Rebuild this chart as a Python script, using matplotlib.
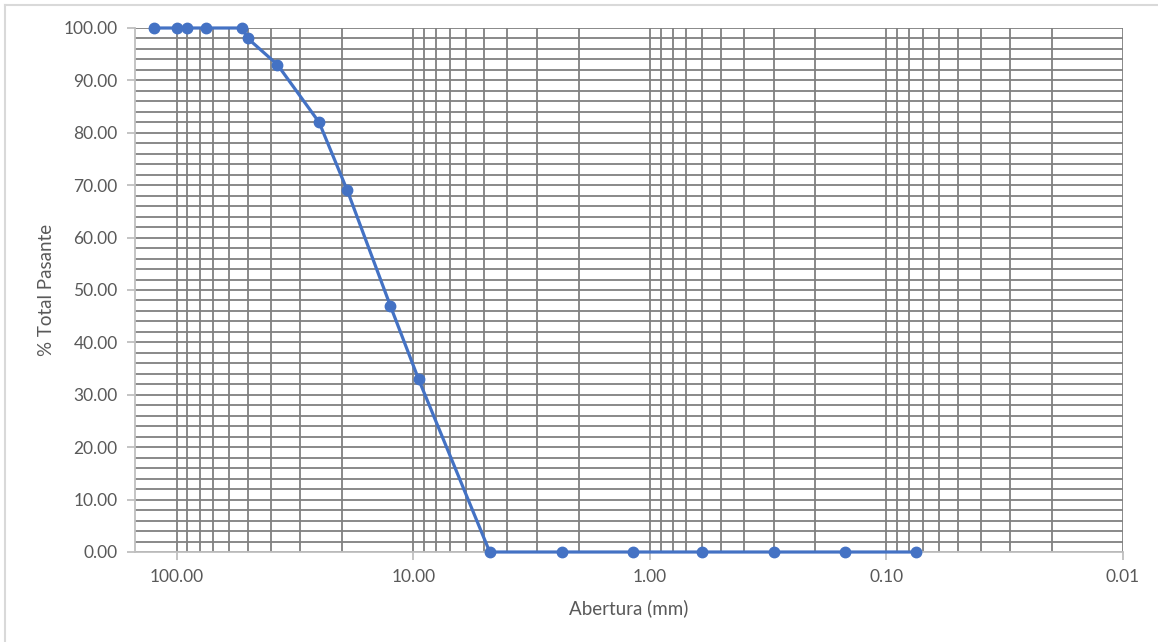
import matplotlib
matplotlib.use("Agg")
import matplotlib.pyplot as plt
from matplotlib.ticker import LogLocator, FixedLocator, MultipleLocator, FuncFormatter, NullFormatter
from matplotlib.lines import Line2D

# Data
aberturas = [125, 100, 90, 75, 53, 50, 37.5, 25, 19, 12.5, 9.5, 4.75, 2.36, 1.18, 0.6, 0.3, 0.15, 0.075]
pasante = [100, 100, 100, 100, 100, 98, 93, 82, 69, 47, 33, 0, 0, 0, 0, 0, 0, 0]
x_major = [100, 10, 1, 0.1, 0.01]
x_title = "Abertura (mm)"
y_title = "% Total Pasante"

plt.rcParams['font.family'] = ['Lato', 'DejaVu Sans']

W, H = 1158, 642
fig = plt.figure(figsize=(W / 100, H / 100), dpi=100)
ax = fig.add_axes([135 / W, 1 - 552 / H, (1123 - 135) / W, (552 - 28) / H])

text_col = '#595959'
grid_col = '#808080'
axis_col = '#bfbfbf'
blue = '#4472C4'

ax.plot(aberturas, pasante, color=blue, lw=2.3, marker='o', markersize=7.5,
        markeredgecolor=blue, markerfacecolor=blue, clip_on=False, zorder=5)

ax.set_xscale('log')
ax.set_xlim(150, 0.01)
ax.set_ylim(0, 100)

ax.xaxis.set_major_locator(FixedLocator(x_major))
ax.xaxis.set_minor_locator(LogLocator(base=10, subs=[2, 3, 4, 5, 6, 7, 8, 9], numticks=20))
ax.xaxis.set_major_formatter(FuncFormatter(lambda v, p: f"{v:.2f}"))
ax.xaxis.set_minor_formatter(NullFormatter())

ax.yaxis.set_major_locator(MultipleLocator(10))
ax.yaxis.set_minor_locator(MultipleLocator(2))
ax.yaxis.set_major_formatter(FuncFormatter(lambda v, p: f"{v:.2f}"))

ax.set_axisbelow(True)
ax.grid(True, which='both', color=grid_col, lw=1.3)

for s in ['top', 'right']:
    ax.spines[s].set_visible(False)
for s in ['left', 'bottom']:
    ax.spines[s].set_color(axis_col)
    ax.spines[s].set_linewidth(1.3)
    ax.spines[s].set_zorder(3)

ax.tick_params(which='major', length=5.5, width=1.3, color=axis_col,
               labelcolor=text_col, labelsize=12.5, pad=7)
ax.tick_params(which='minor', length=0)

ax.set_xlabel(x_title, color=text_col, fontsize=13.5, labelpad=10)
ax.set_ylabel(y_title, color=text_col, fontsize=13.5, labelpad=6)

# chart area border (top and left visible)
fig.add_artist(Line2D([5 / W, 1], [1 - 5 / H, 1 - 5 / H], transform=fig.transFigure,
                      color='#d9d9d9', lw=1.5))
fig.add_artist(Line2D([5 / W, 5 / W], [0, 1 - 5 / H], transform=fig.transFigure,
                      color='#d9d9d9', lw=1.5))

fig.savefig('out.png', dpi=100)
